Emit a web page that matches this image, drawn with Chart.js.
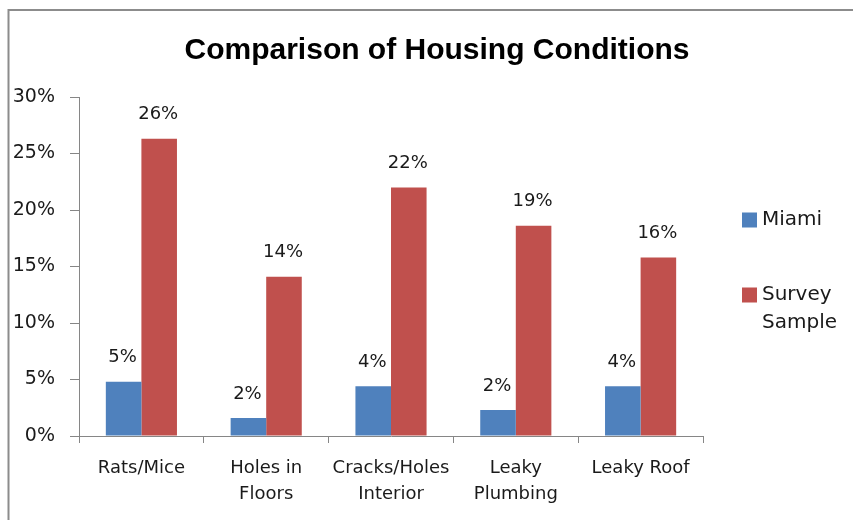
<!DOCTYPE html>
<html>
<head>
<meta charset="utf-8">
<script src="https://cdn.jsdelivr.net/npm/chart.js@4.4.1/dist/chart.umd.min.js"></script>
<style>
  html, body { margin: 0; padding: 0; background: #fff; }
  #wrap { width: 853px; height: 520px; position: relative; }
</style>
</head>
<body>
<div id="wrap"><canvas id="chart" width="853" height="520"></canvas></div>
<script>
// ─── Data ────────────────────────────────────────────────────────────────────

const chartTitle = "Comparison of Housing Conditions";
const categories = [
  "Rats/Mice",
  ["Holes in", "Floors"],
  ["Cracks/Holes", "Interior"],
  ["Leaky", "Plumbing"],
  "Leaky Roof",
];
const miami = [4.8, 1.6, 4.4, 2.3, 4.4];
const surveySample = [26.3, 14.1, 22.0, 18.6, 15.8];
const seriesNames = ["Miami", "Survey Sample"];
const legendLines = [["Miami"], ["Survey", "Sample"]];
const yTicks = [0, 5, 10, 15, 20, 25, 30];

// ─── Style ───────────────────────────────────────────────────────────────────

const blue = "#4f81bd";
const red = "#c0504d";
const axisColor = "#868686";
const textColor = "#1a1a1a";
const smallFont = "DejaVu Sans";

// title, data labels, legend and outer frame
const decorPlugin = {
  id: "decor",
  beforeDraw(chart) {
    const c = chart.ctx;
    c.save();
    c.strokeStyle = "#8c8c8c";
    c.lineWidth = 2;
    c.strokeRect(8.5, 10, 900, 600);
    c.restore();
  },
  afterDatasetsDraw(chart) {
    const c = chart.ctx;
    c.save();

    // title
    c.fillStyle = "#000";
    c.font = "bold 30px 'Liberation Sans'";
    c.textAlign = "center";
    c.textBaseline = "middle";
    c.fillText(chartTitle, 437, 51);

    // value labels
    c.font = `18px '${smallFont}'`;
    c.fillStyle = textColor;
    c.textBaseline = "middle";
    chart.data.datasets.forEach((ds, di) => {
      chart.getDatasetMeta(di).data.forEach((bar, i) => {
        c.fillText(Math.round(ds.data[i]) + "%", bar.x - 1, bar.y - 24);
      });
    });

    // legend
    const colors = [blue, red];
    const rows = [220, 295];
    c.textAlign = "left";
    c.font = `20px '${smallFont}'`;
    legendLines.forEach((lines, i) => {
      c.fillStyle = colors[i];
      c.fillRect(742, rows[i] - 7.5, 15, 15);
      c.fillStyle = textColor;
      lines.forEach((ln, j) => c.fillText(ln, 762, rows[i] + j * 28));
    });

    c.restore();
  },
};

new Chart(document.getElementById("chart").getContext("2d"), {
  type: "bar",
  data: {
    labels: categories,
    datasets: [
      { label: seriesNames[0], data: miami, backgroundColor: blue },
      { label: seriesNames[1], data: surveySample, backgroundColor: red },
    ],
  },
  options: {
    responsive: false,
    animation: false,
    events: [],
    layout: { padding: { left: 0, top: 97, right: 150, bottom: 0 } },
    datasets: {
      bar: { categoryPercentage: 0.57, barPercentage: 1 },
    },
    plugins: {
      legend: { display: false },
      title: { display: false },
      tooltip: { enabled: false },
    },
    scales: {
      x: {
        grid: {
          offset: true,
          drawOnChartArea: false,
          tickLength: 7,
          color: axisColor,
        },
        border: { color: axisColor },
        ticks: {
          color: textColor,
          padding: 12,
          maxRotation: 0,
          autoSkip: false,
          font: { family: smallFont, size: 18, lineHeight: 1.45 },
        },
        afterFit: (s) => { s.height = 84; },
      },
      y: {
        min: 0,
        max: 30,
        afterBuildTicks: (s) => { s.ticks = yTicks.map((v) => ({ value: v })); },
        grid: {
          drawOnChartArea: false,
          tickLength: 9,
          color: axisColor,
        },
        border: { color: axisColor },
        ticks: {
          color: textColor,
          padding: 15,
          font: { family: smallFont, size: 19 },
          callback: (v) => v + "%",
        },
        afterFit: (s) => { s.width = 79; },
      },
    },
  },
  plugins: [decorPlugin],
});
</script>
</body>
</html>
